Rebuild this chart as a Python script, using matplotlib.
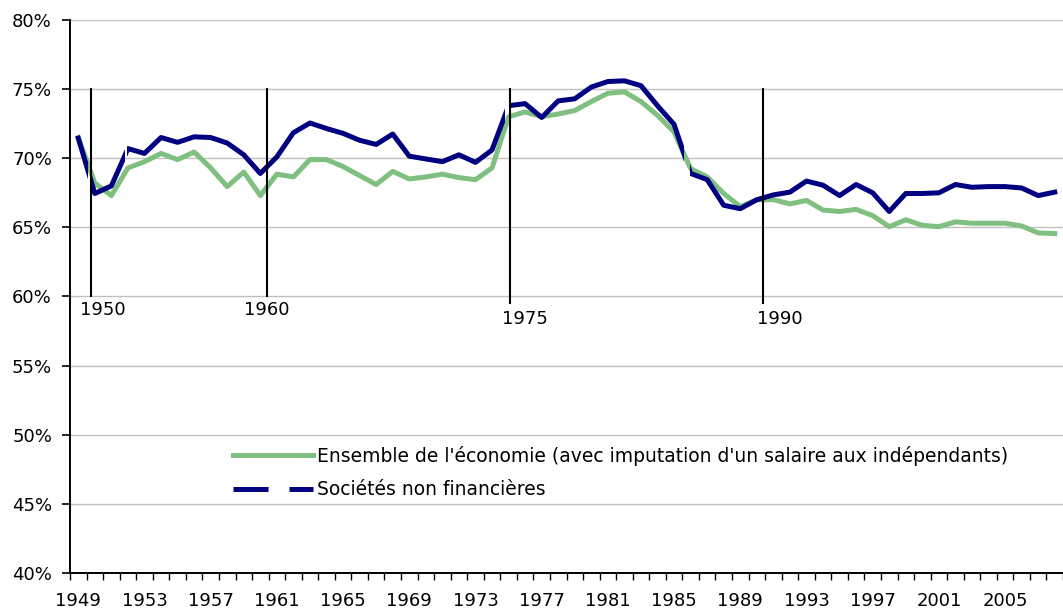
import numpy as np
import matplotlib.pyplot as plt
from matplotlib.lines import Line2D
from matplotlib.path import Path

plt.rcParams['font.family'] = ['DejaVu Sans']

years = np.arange(1949, 2009)

# part de la rémunération dans la valeur ajoutée (%)
ensemble = [71.5, 68.2, 67.3, 69.3, 69.75, 70.35, 69.9, 70.45, 69.3, 67.95,
            69.0, 67.3, 68.85, 68.65, 69.9, 69.9, 69.4, 68.75, 68.1, 69.05,
            68.5, 68.65, 68.85, 68.6, 68.45, 69.3, 73.0, 73.35, 73.0, 73.2,
            73.45, 74.1, 74.7, 74.8, 74.1, 73.1, 71.9, 69.25, 68.65, 67.45,
            66.5, 67.0, 67.0, 66.7, 66.95, 66.25, 66.15, 66.3, 65.85, 65.05,
            65.55, 65.15, 65.05, 65.4, 65.3, 65.3, 65.3, 65.1, 64.6, 64.55]
societes = [71.45, 67.45, 68.0, 70.7, 70.35, 71.5, 71.15, 71.55, 71.5, 71.1,
            70.25, 68.9, 70.1, 71.85, 72.55, 72.15, 71.8, 71.3, 71.0, 71.75,
            70.15, 69.95, 69.75, 70.25, 69.7, 70.6, 73.8, 73.95, 72.95, 74.15,
            74.3, 75.15, 75.55, 75.6, 75.25, 73.8, 72.45, 68.9, 68.45, 66.6,
            66.35, 67.0, 67.35, 67.55, 68.35, 68.05, 67.3, 68.1, 67.5, 66.15,
            67.45, 67.45, 67.5, 68.1, 67.9, 67.95, 67.95, 67.85, 67.3, 67.55]

labels = ["Ensemble de l'économie (avec imputation d'un salaire aux indépendants)",
          "Sociétés non financières"]

# small breaks in the navy curve (changes of base)
breaks = [(1949.6, 1949.82), (1951.8, 1951.92), (1974.78, 1975.0), (1985.62, 1985.97)]

# period markers
periods = ['1950', '1960', '1975', '1990']
period_x = [1949.76, 1960.38, 1975.1, 1990.37]
period_bottom = [60.0, 60.0, 59.5, 59.5]
period_label_x = [1949.1, 1959.0, 1974.6, 1990.0]
period_label_y = [59.0, 59.0, 58.4, 58.4]

GREEN = '#7fbf7f'
NAVY = '#000080'

fig = plt.figure(figsize=(10.63, 6.09), dpi=100)
ax = fig.add_axes([70 / 1063, 36 / 609, 993 / 1063, 553 / 609])

ax.set_xlim(1948.5, 1948.5 + 993 / 16.67)
ax.set_ylim(40, 80)

ax.plot(years, ensemble, color=GREEN, lw=3.6, solid_joinstyle='round', zorder=3)
nav, = ax.plot(years, societes, color=NAVY, lw=3.6, solid_joinstyle='round', zorder=4)

# clip the navy line so the breaks show
edges = [1940] + [v for b in breaks for v in b] + [2015]
rects = []
for x0, x1 in zip(edges[::2], edges[1::2]):
    rects.append(Path([(x0, 0), (x1, 0), (x1, 100), (x0, 100), (x0, 0)],
                      [Path.MOVETO, Path.LINETO, Path.LINETO, Path.LINETO, Path.CLOSEPOLY]))
nav.set_clip_path(Path.make_compound_path(*rects), ax.transData)

for name, x, yb, lx, ly in zip(periods, period_x, period_bottom, period_label_x, period_label_y):
    ax.plot([x, x], [75, yb], color='black', lw=1.5, zorder=5)
    ax.text(lx, ly, name, fontsize=13, ha='left', va='center')

# axes styling
ax.set_yticks(np.arange(40, 81, 5))
ax.set_yticklabels([f'{v}%' for v in range(40, 81, 5)])
ax.yaxis.grid(True, color='#c0c0c0', lw=1.0, zorder=0)
ax.set_axisbelow(True)
ax.tick_params(axis='y', direction='out', length=6, width=1.2, pad=7, labelsize=13)

ax.set_xticks(years[::4])
ax.set_xticklabels([str(y) for y in years[::4]])
ax.set_xticks(np.arange(1948.5, 2009, 1), minor=True)
ax.tick_params(axis='x', which='major', length=0, pad=14, labelsize=13)
ax.tick_params(axis='x', which='minor', direction='out', length=5, width=1.0)

for s in ['top', 'right']:
    ax.spines[s].set_visible(False)
for s in ['left', 'bottom']:
    ax.spines[s].set_linewidth(1.4)

handles = [Line2D([], [], color=GREEN, lw=3.6),
           Line2D([], [], color=NAVY, lw=3.6, linestyle=(0, (7, 4.2)))]
ax.legend(handles, labels, loc='upper left', bbox_to_anchor=(0.164, 0.230),
          frameon=False, fontsize=13.5, handlelength=4.25, handletextpad=0.25,
          labelspacing=0.78, borderpad=0, borderaxespad=0)

fig.savefig('out.png', dpi=100)
